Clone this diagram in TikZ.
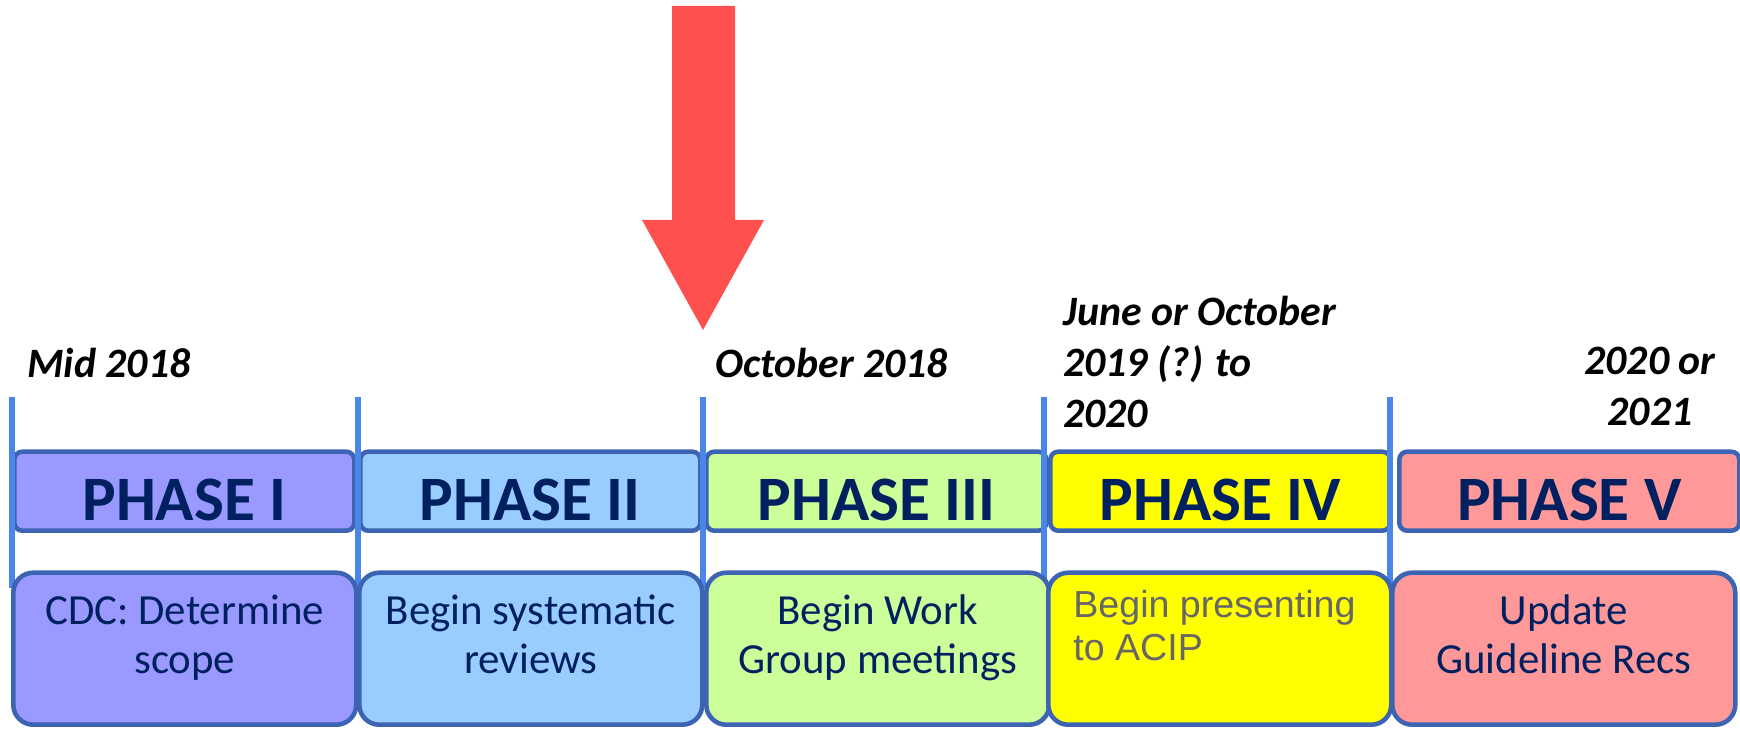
\documentclass[tikz,border=0pt]{standalone}
\usepackage{fontspec}
\setmainfont{Carlito}
\newfontfamily\arialfont{Liberation Sans}
\usepackage{xcolor}
\usetikzlibrary{positioning}
\definecolor{rimblue}{HTML}{3D64B2}
\definecolor{lineblue}{HTML}{4A85E8}
\definecolor{navy}{HTML}{002060}
\definecolor{arrowred}{HTML}{FF5050}
\definecolor{greytext}{HTML}{666666}
\definecolor{phaseone}{HTML}{9999FF}
\definecolor{phasetwo}{HTML}{99CCFF}
\definecolor{phasethree}{HTML}{CCFF99}
\definecolor{phasefour}{HTML}{FFFF00}
\definecolor{phasefive}{HTML}{FF9999}
\tikzset{
  phasebox/.style={draw=rimblue, line width=2.6pt, rounded corners=0.16cm,
    minimum width=6.8cm, minimum height=1.58cm, anchor=south west, inner sep=0pt,
    text height=33pt, text depth=0pt,
    text=navy, font=\fontsize{36}{40}\selectfont\bfseries},
  taskbox/.style={draw=rimblue, line width=2.6pt, rounded corners=0.4cm,
    minimum width=6.86cm, minimum height=3.04cm, anchor=south west, inner sep=0pt},
  tasktext/.style={anchor=north, align=center, inner sep=0pt, text=navy,
    font=\fontsize{24.4}{28}\selectfont},
  datetext/.style={inner sep=0pt, font=\fontsize{23.8}{29}\selectfont\bfseries\itshape},
  tickline/.style={draw=lineblue, line width=3.7pt}
}
\begin{document}
\begin{tikzpicture}
  \useasboundingbox (0,0) rectangle (34.8,14.58);

  % big pointer
  \fill[arrowred] (13.44,14.46) -- (14.7,14.46) -- (14.7,10.18) -- (15.28,10.18)
    -- (14.06,7.98) -- (12.84,10.18) -- (13.44,10.18) -- cycle;

  % dates
  \node[datetext, anchor=base west] (date1) at (0.54,7.02) {Mid 2018};
  \node[datetext, anchor=base west] (date3) at (14.3,7.02) {October 2018};
  \node[datetext, anchor=north west, align=left] (date4) at (21.26,8.66)
    {June or October\\2019 (?) to\\2020};
  \node[datetext, anchor=north, align=center] (date5) at (33.0,7.64) {2020 or\\2021};

  % phase headers
  \node[phasebox, fill=phaseone] (ph1) at (0.24,3.92) {PHASE I};
  \node[phasebox, fill=phasetwo] (ph2) at (7.16,3.92) {PHASE II};
  \node[phasebox, fill=phasethree] (ph3) at (14.08,3.92) {PHASE III};
  \node[phasebox, fill=phasefour] (ph4) at (20.96,3.92) {PHASE IV};
  \node[phasebox, fill=phasefive] (ph5) at (27.94,3.92) {PHASE V};

  % ticks
  \draw[tickline] (0.24,6.64) -- (0.24,2.82);
  \draw[tickline] (7.16,6.64) -- (7.16,2.82);
  \draw[tickline] (14.06,6.64) -- (14.06,2.82);
  \draw[tickline] (20.88,6.64) -- (20.88,2.82);
  \draw[tickline] (27.8,6.64) -- (27.8,2.82);

  % tasks
  \node[taskbox, fill=phaseone] (task1) at (0.22,0.04) {};
  \node[taskbox, fill=phasetwo] (task2) at (7.14,0.04) {};
  \node[taskbox, fill=phasethree] (task3) at (14.08,0.04) {};
  \node[taskbox, fill=phasefour] (task4) at (20.92,0.04) {};
  \node[taskbox, fill=phasefive] (task5) at (27.8,0.04) {};

  \node[tasktext] (txt1) at ([yshift=-0.48cm]task1.north) {CDC: Determine\\scope};
  \node[tasktext] (txt2) at ([yshift=-0.48cm]task2.north) {Begin systematic\\reviews};
  \node[tasktext] (txt3) at ([yshift=-0.48cm]task3.north) {Begin Work\\Group meetings};
  \node[tasktext, anchor=north west, align=left, text=greytext,
    font=\arialfont\fontsize{21.4}{24.5}\selectfont] (txt4) at (21.46,2.78)
    {Begin presenting\\to ACIP};
  \node[tasktext] (txt5) at ([yshift=-0.48cm]task5.north) {Update\\Guideline Recs};
\end{tikzpicture}
\end{document}
